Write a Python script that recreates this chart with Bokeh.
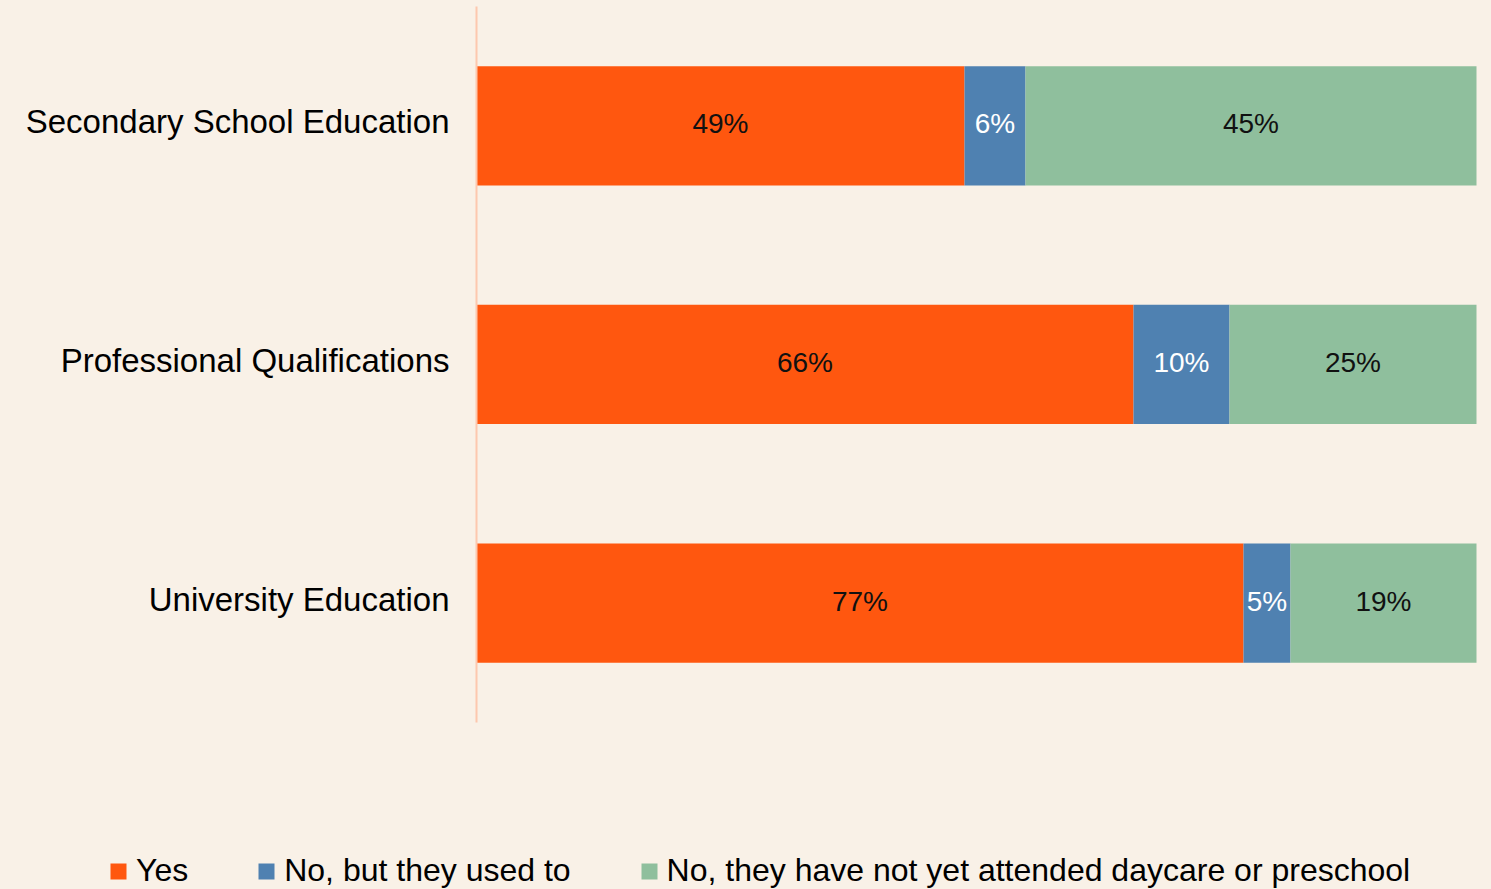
from bokeh.plotting import figure
from bokeh.models import ColumnDataSource, Legend, LegendItem, Range1d
from bokeh.core.properties import value
from bokeh.embed import file_html
from bokeh.resources import INLINE

# ---- data ----
categories = ["Secondary School Education", "Professional Qualifications", "University Education"]
yes = [48.8, 65.7, 76.7]
used_to = [6.1, 9.6, 4.7]
not_yet = [45.1, 24.7, 18.6]
series_names = ["Yes", "No, but they used to", "No, they have not yet attended daycare or preschool"]

# ---- styles ----
BG = "#F9F1E7"
colors = ["#FF570F", "#4F81B1", "#8FBF9D"]
label_colors = ["#111111", "#FFFFFF", "#111111"]
FONT = "Liberation Sans"

n = len(categories)
rows = [n - 1 - i for i in range(n)]          # top-to-bottom -> 2, 1, 0
src = ColumnDataSource(dict(row=rows, cat=categories, yes=yes, used=used_to, notyet=not_yet))

# the frame covers the whole canvas so the legend can sit anywhere in it
p = figure(
    x_range=Range1d(-47.6, 101.5),
    y_range=Range1d(-1.2, n - 0.475),
    width=1491, height=889,
    min_border_left=0, min_border_right=0, min_border_top=0, min_border_bottom=0,
    output_backend="svg", toolbar_location=None,
    background_fill_color=BG, border_fill_color=BG, outline_line_color=None,
)
p.axis.visible = False
p.grid.visible = False

renderers = p.hbar_stack(["yes", "used", "notyet"], y="row", height=0.5,
                         color=colors, line_color=None, source=src)

# category axis: line at x = 0 and labels to its left
p.segment(x0=0, y0=-0.5, x1=0, y1=n - 0.5, line_color="#FDC8AE", line_width=2)
p.text(x=0, y="row", text="cat", source=src, x_offset=-27, y_offset=-4,
       text_font=value(FONT), text_font_size="33px", text_color="#000000",
       text_align="right", text_baseline="middle")

# segment labels
lx, ly, lt, lc = [], [], [], []
for i, r in enumerate(rows):
    left = 0.0
    for s, vals in enumerate([yes, used_to, not_yet]):
        v = vals[i]
        lx.append(left + v / 2)
        ly.append(r)
        lt.append(f"{round(v)}%")
        lc.append(label_colors[s])
        left += v
lab = ColumnDataSource(dict(x=lx, y=ly, t=lt, c=lc))
p.text(x="x", y="y", text="t", text_color="c", source=lab, y_offset=-2,
       text_font=value(FONT), text_font_size="28px",
       text_align="center", text_baseline="middle")

# legend
items = [LegendItem(label=nm, renderers=[r]) for nm, r in zip(series_names, renderers)]
legend = Legend(items=items, orientation="horizontal", location=(108, 0),
                glyph_width=20, glyph_height=20, label_standoff=8, spacing=68,
                padding=0, margin=0, border_line_color=None, background_fill_alpha=0,
                label_text_font=FONT, label_text_font_size="32px",
                label_text_color="#000000", label_height=32)
p.add_layout(legend, "center")

html = file_html(p, INLINE)
html = html.replace("<head>", "<head><style>html,body{margin:0;padding:0;background:%s;overflow:hidden}</style>" % BG, 1)
open("out.html", "w").write(html)
